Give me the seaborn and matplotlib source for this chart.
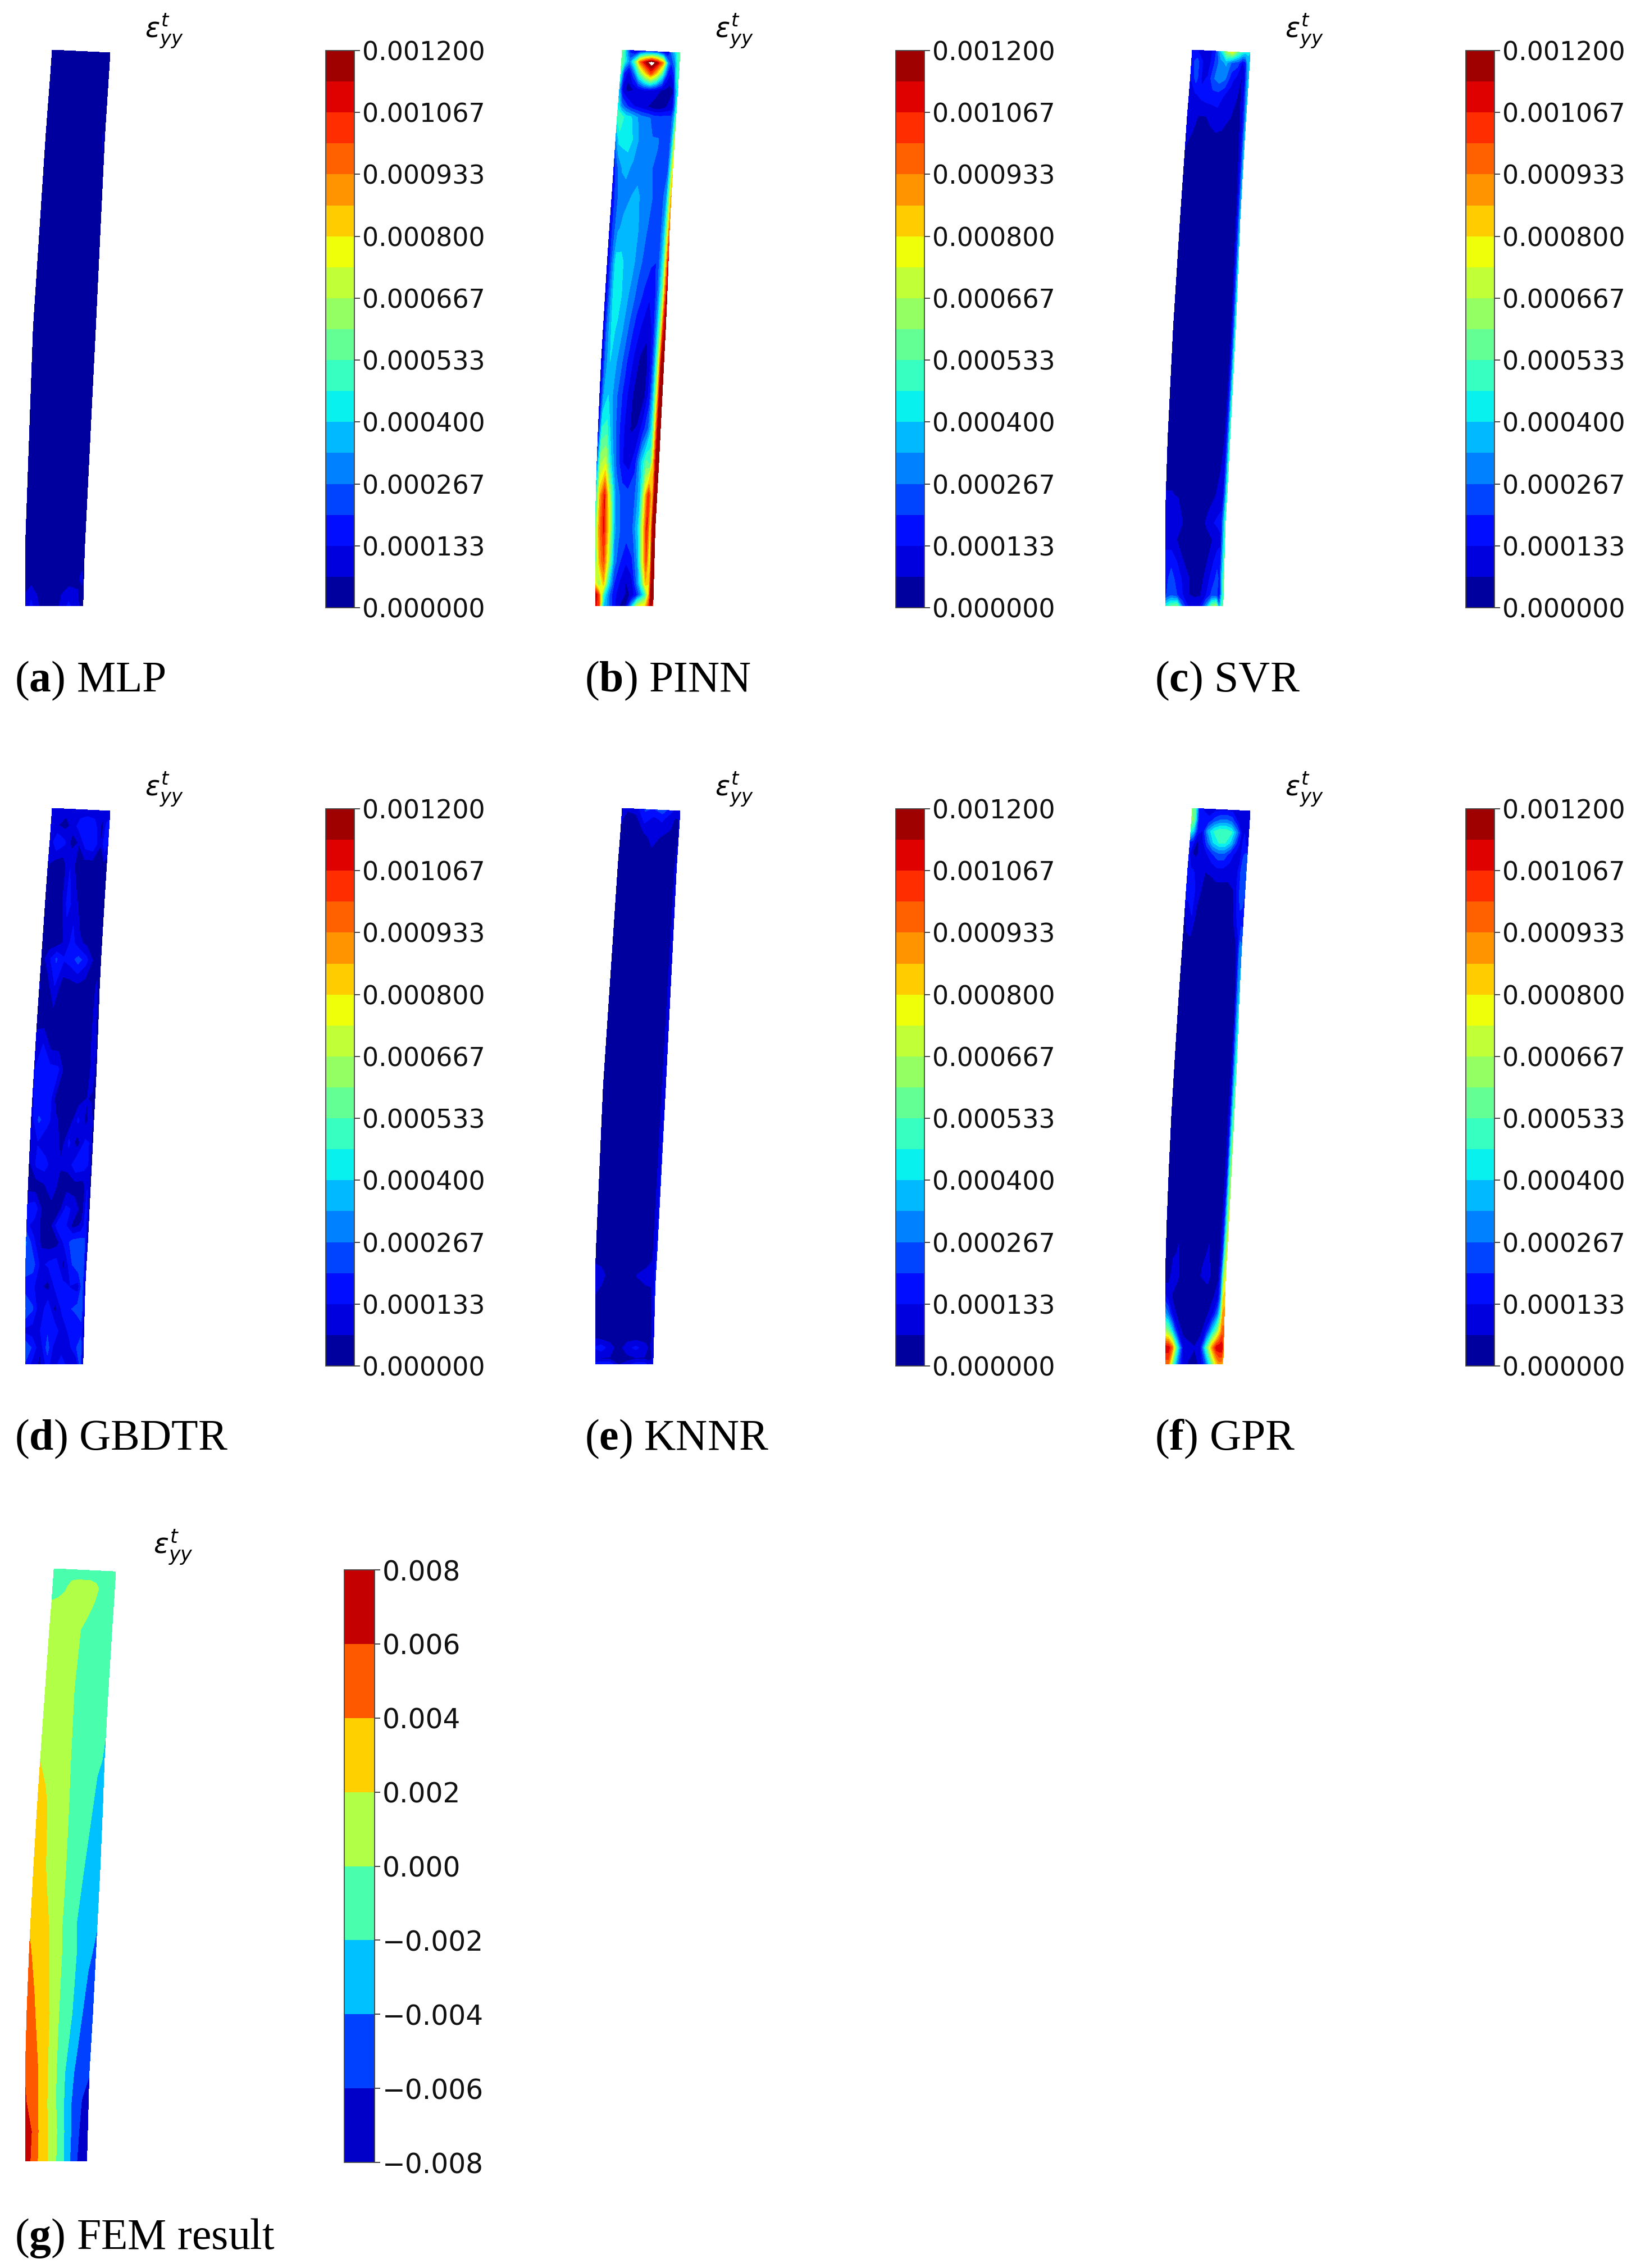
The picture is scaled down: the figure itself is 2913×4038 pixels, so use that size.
import numpy as np
import matplotlib
matplotlib.use('Agg')
import matplotlib.pyplot as plt
import seaborn as sns

##### VALUES
# beam outline, s runs from the top (0) to the bottom (1) of the beam
edge_s = [0.0, 0.064, 0.125, 0.193, 0.262, 0.323, 0.395, 0.474, 0.552, 0.645, 0.703, 0.768, 0.85, 1.0]
edge_left = [47.7, 43.3, 38.3, 34.0, 29.3, 25.0, 20.3, 15.7, 11.0, 6.7, 4.3, 2.0, 0.0, 0.0]
edge_right = [150.0, 146.0, 142.0, 138.0, 134.0, 131.0, 128.5, 125.5, 121.5, 117.0, 114.0, 111.0, 106.0, 102.0]

# contour fields, strain * 1e6 for a to f, strain * 1e3 for g
mlp_u = [0.0, 0.1, 0.25, 0.4, 0.6, 0.75, 0.9, 0.97, 1.0]
mlp_s = [0.0, 0.05, 0.15, 0.5, 0.9, 0.95, 0.98, 1.0]
mlp_v = [
    [25, 25, 25, 25, 25, 25, 25, 25, 30],
    [25, 25, 25, 25, 25, 25, 25, 30, 30],
    [25, 25, 25, 25, 25, 25, 30, 70, 30],
    [25, 25, 25, 25, 25, 25, 25, 30, 30],
    [25, 25, 25, 25, 25, 25, 30, 30, 30],
    [30, 25, 25, 25, 25, 25, 60, 80, 30],
    [70, 120, 40, 25, 60, 110, 70, 50, 30],
    [80, 150, 60, 30, 70, 150, 80, 50, 30],
]

pinn_u = [0.0, 0.06, 0.14, 0.22, 0.32, 0.42, 0.52, 0.62, 0.72, 0.8, 0.86, 0.92, 0.96, 1.0]
pinn_s = [0.0, 0.02, 0.04, 0.07, 0.1, 0.12, 0.16, 0.21, 0.26, 0.32, 0.38, 0.44, 0.5, 0.56, 0.62,
          0.68, 0.74, 0.8, 0.86, 0.92, 0.96, 0.98, 1.0]
pinn_v = [
    [600, 400, 170, 60, 150, 200, 200, 200, 100, 100, 300, 400, 500, 550],
    [600, 450, 300, 500, 950, 1150, 1300, 1150, 900, 350, 200, 300, 450, 550],
    [500, 200, 100, 250, 550, 800, 1000, 800, 500, 200, 120, 200, 450, 500],
    [350, 100, 40, 60, 100, 130, 130, 100, 60, 40, 40, 60, 300, 450],
    [450, 300, 220, 150, 120, 90, 60, 30, 30, 60, 80, 100, 250, 500],
    [500, 530, 440, 420, 350, 300, 280, 250, 240, 240, 240, 240, 320, 550],
    [300, 430, 430, 440, 380, 310, 290, 270, 270, 250, 240, 240, 380, 700],
    [160, 260, 340, 350, 320, 300, 290, 270, 260, 240, 240, 260, 480, 780],
    [110, 220, 300, 310, 330, 350, 310, 280, 260, 240, 250, 330, 560, 870],
    [100, 230, 320, 350, 370, 370, 310, 270, 240, 220, 260, 400, 650, 950],
    [90, 240, 430, 420, 370, 350, 290, 240, 210, 200, 280, 470, 800, 1090],
    [80, 250, 440, 430, 360, 310, 240, 190, 140, 170, 300, 570, 900, 1180],
    [70, 280, 420, 390, 330, 250, 170, 120, 80, 150, 340, 660, 1050, 1190],
    [60, 280, 400, 350, 280, 190, 120, 50, 40, 150, 360, 760, 1150, 1190],
    [80, 330, 400, 320, 230, 150, 70, 30, 60, 170, 390, 800, 1180, 1190],
    [110, 470, 490, 340, 220, 130, 60, 70, 170, 260, 420, 850, 1190, 1190],
    [250, 650, 700, 420, 240, 130, 100, 180, 400, 550, 500, 900, 1190, 1190],
    [450, 850, 1070, 700, 320, 240, 220, 240, 380, 800, 1060, 800, 1190, 1190],
    [550, 900, 1080, 800, 350, 260, 240, 260, 420, 800, 1070, 750, 1190, 1190],
    [550, 850, 1000, 700, 300, 200, 140, 190, 350, 750, 1000, 700, 1190, 1190],
    [800, 600, 850, 450, 200, 120, 60, 100, 300, 550, 850, 800, 1190, 1190],
    [1180, 1000, 500, 300, 150, 100, 60, 70, 200, 350, 500, 850, 1190, 1190],
    [1100, 1000, 400, 300, 150, 60, 60, 350, 700, 800, 800, 1000, 1190, 1000],
]

svr_u = [0.0, 0.1, 0.2, 0.3, 0.4, 0.5, 0.6, 0.7, 0.8, 0.88, 0.93, 0.97, 1.0]
svr_s = [0.0, 0.02, 0.05, 0.08, 0.12, 0.18, 0.3, 0.5, 0.7, 0.8, 0.85, 0.88, 0.92, 0.95, 0.98, 1.0]
svr_v = [
    [130, 130, 120, 100, 170, 400, 650, 760, 550, 450, 420, 420, 400],
    [170, 230, 130, 100, 200, 300, 350, 250, 230, 120, 160, 350, 400],
    [130, 230, 120, 140, 260, 300, 270, 160, 100, 60, 100, 300, 380],
    [130, 120, 150, 170, 170, 170, 130, 100, 70, 60, 100, 280, 380],
    [110, 90, 60, 60, 80, 100, 90, 70, 60, 50, 90, 220, 380],
    [60, 40, 25, 25, 25, 25, 25, 25, 25, 40, 80, 220, 380],
    [25, 25, 25, 25, 25, 25, 25, 25, 25, 25, 60, 200, 370],
    [25, 25, 25, 25, 25, 25, 25, 25, 25, 25, 60, 250, 480],
    [25, 25, 25, 25, 25, 25, 25, 25, 25, 40, 80, 280, 520],
    [70, 70, 60, 30, 25, 25, 25, 25, 60, 90, 100, 300, 520],
    [130, 130, 130, 60, 25, 25, 25, 90, 130, 150, 160, 350, 520],
    [90, 90, 60, 25, 25, 25, 25, 30, 70, 90, 120, 350, 520],
    [180, 180, 130, 70, 30, 25, 30, 60, 120, 180, 160, 380, 540],
    [170, 230, 170, 120, 70, 30, 30, 100, 160, 220, 180, 420, 550],
    [190, 250, 200, 130, 70, 50, 60, 130, 220, 220, 130, 400, 530],
    [450, 550, 600, 250, 120, 120, 120, 300, 580, 650, 300, 500, 550],
]

gbdtr_u = [0.0, 0.12, 0.25, 0.38, 0.5, 0.62, 0.75, 0.88, 0.95, 1.0]
gbdtr_s = [0.0, 0.03, 0.06, 0.1, 0.17, 0.24, 0.27, 0.32, 0.38, 0.42, 0.47, 0.52, 0.56, 0.6, 0.64,
           0.68, 0.72, 0.75, 0.78, 0.82, 0.86, 0.9, 0.94, 0.97, 1.0]
gbdtr_v = [
    [90, 90, 90, 90, 90, 90, 90, 90, 90, 90],
    [90, 70, 40, 90, 170, 200, 170, 40, 150, 170],
    [70, 200, 150, 40, 70, 170, 190, 70, 190, 130],
    [70, 30, 25, 130, 30, 30, 25, 25, 30, 30],
    [50, 25, 25, 160, 100, 25, 25, 25, 25, 25],
    [25, 25, 25, 80, 160, 80, 50, 25, 25, 25],
    [30, 110, 210, 140, 170, 230, 160, 50, 25, 30],
    [70, 25, 130, 25, 25, 40, 25, 25, 80, 25],
    [40, 25, 25, 25, 25, 25, 25, 40, 100, 25],
    [100, 130, 30, 25, 25, 25, 25, 40, 120, 25],
    [130, 180, 160, 150, 25, 25, 25, 40, 120, 25],
    [130, 150, 190, 40, 25, 25, 25, 70, 50, 25],
    [100, 210, 170, 80, 50, 25, 150, 40, 120, 25],
    [70, 130, 70, 130, 25, 150, 25, 150, 130, 25],
    [50, 150, 170, 80, 80, 80, 190, 170, 130, 25],
    [40, 25, 50, 130, 25, 40, 25, 25, 130, 25],
    [160, 180, 40, 25, 25, 150, 120, 25, 160, 25],
    [150, 100, 50, 40, 170, 150, 40, 80, 170, 25],
    [270, 150, 50, 25, 40, 150, 230, 240, 210, 30],
    [250, 230, 110, 150, 170, 40, 190, 260, 230, 50],
    [160, 150, 80, 40, 150, 170, 130, 100, 230, 70],
    [270, 210, 70, 190, 40, 150, 190, 230, 240, 70],
    [110, 100, 130, 190, 190, 80, 150, 130, 170, 50],
    [260, 190, 80, 230, 100, 80, 110, 200, 250, 40],
    [190, 110, 50, 160, 80, 190, 80, 80, 230, 40],
]

knnr_u = [0.0, 0.1, 0.25, 0.4, 0.55, 0.7, 0.85, 0.93, 1.0]
knnr_s = [0.0, 0.015, 0.05, 0.1, 0.5, 0.8, 0.84, 0.87, 0.92, 0.95, 0.97, 0.99, 1.0]
knnr_v = [
    [70, 70, 100, 210, 190, 240, 150, 100, 90],
    [70, 60, 50, 170, 120, 150, 90, 60, 70],
    [60, 60, 30, 40, 90, 60, 50, 30, 70],
    [60, 30, 25, 25, 25, 25, 25, 40, 90],
    [25, 25, 25, 25, 25, 25, 25, 50, 130],
    [25, 25, 25, 25, 25, 25, 25, 60, 150],
    [110, 90, 30, 25, 25, 70, 90, 80, 150],
    [70, 50, 25, 25, 25, 40, 50, 60, 150],
    [30, 25, 25, 25, 25, 25, 25, 30, 130],
    [50, 30, 25, 25, 25, 25, 25, 30, 130],
    [140, 170, 100, 30, 110, 150, 100, 50, 100],
    [70, 60, 60, 30, 40, 60, 60, 40, 80],
    [170, 190, 190, 60, 100, 170, 170, 100, 90],
]

gpr_u = [0.0, 0.05, 0.12, 0.2, 0.3, 0.4, 0.5, 0.6, 0.7, 0.8, 0.88, 0.93, 0.97, 1.0]
gpr_s = [0.0, 0.02, 0.04, 0.06, 0.08, 0.11, 0.15, 0.2, 0.25, 0.35, 0.45, 0.55, 0.65, 0.75, 0.8,
         0.84, 0.88, 0.91, 0.94, 0.97, 1.0]
gpr_v = [
    [600, 550, 180, 130, 100, 110, 120, 120, 110, 100, 100, 90, 90, 90],
    [620, 580, 200, 150, 150, 230, 280, 290, 250, 130, 100, 90, 90, 90],
    [500, 400, 170, 130, 350, 470, 530, 530, 480, 300, 120, 130, 110, 110],
    [200, 170, 60, 90, 250, 400, 470, 470, 380, 200, 100, 170, 110, 110],
    [150, 70, 40, 100, 130, 200, 250, 250, 170, 110, 110, 190, 220, 220],
    [200, 140, 130, 130, 70, 80, 110, 110, 100, 100, 150, 250, 250, 270],
    [180, 150, 150, 100, 30, 25, 25, 25, 30, 60, 170, 230, 220, 200],
    [30, 100, 130, 30, 25, 25, 25, 25, 25, 30, 120, 180, 180, 150],
    [25, 25, 25, 25, 25, 25, 25, 25, 25, 25, 30, 100, 300, 300],
    [25, 25, 25, 25, 25, 25, 25, 25, 25, 25, 30, 60, 300, 400],
    [25, 25, 25, 25, 25, 25, 25, 40, 40, 30, 30, 80, 350, 500],
    [25, 30, 40, 25, 25, 25, 25, 25, 25, 60, 30, 100, 400, 580],
    [25, 25, 50, 25, 25, 25, 25, 25, 25, 50, 30, 110, 450, 650],
    [25, 25, 25, 60, 25, 25, 25, 40, 60, 30, 40, 180, 500, 680],
    [25, 25, 60, 70, 25, 25, 25, 60, 70, 30, 40, 200, 560, 700],
    [25, 40, 90, 80, 25, 25, 25, 70, 90, 40, 50, 250, 650, 720],
    [150, 110, 60, 30, 25, 25, 25, 25, 30, 60, 110, 300, 800, 830],
    [350, 280, 130, 50, 25, 25, 25, 25, 50, 130, 280, 500, 880, 900],
    [650, 600, 400, 150, 40, 25, 25, 40, 150, 400, 600, 800, 960, 950],
    [1120, 1120, 950, 500, 130, 90, 70, 130, 500, 900, 1120, 1130, 1130, 950],
    [950, 950, 600, 300, 100, 60, 40, 80, 250, 550, 800, 900, 900, 800],
]

fem_u = [0.0, 0.1, 0.2, 0.3, 0.4, 0.5, 0.6, 0.7, 0.8, 0.9, 1.0]
fem_s = [0.0, 0.03, 0.06, 0.1, 0.2, 0.32, 0.4, 0.5, 0.6, 0.65, 0.75, 0.85, 0.9, 0.95, 1.0]
fem_v = [
    [-1.0, -1.0, -1.0, -1.0, -1.0, -1.0, -1.0, -1.0, -1.0, -1.0, -1.0],
    [-1.0, -1.0, -0.3, 0.6, 0.8, 0.8, 0.8, 0.4, -0.5, -1.0, -1.0],
    [0.3, 0.6, 0.8, 0.8, 0.8, 0.7, 0.4, -0.2, -0.8, -1.0, -1.0],
    [1.0, 1.0, 1.0, 0.8, 0.5, 0.0, -0.5, -1.0, -1.0, -1.0, -1.2],
    [1.3, 1.2, 1.0, 0.8, 0.3, -0.2, -0.6, -1.0, -1.2, -1.5, -1.8],
    [1.9, 1.5, 1.2, 0.8, 0.3, -0.1, -0.6, -1.1, -1.5, -1.8, -2.1],
    [3.2, 2.4, 1.6, 1.0, 0.5, -0.1, -0.6, -1.1, -1.6, -2.4, -3.0],
    [3.6, 2.9, 1.8, 1.2, 0.6, -0.1, -0.9, -1.5, -2.3, -3.0, -3.7],
    [3.8, 3.2, 2.6, 1.8, 1.0, -0.3, -1.2, -2.1, -2.8, -3.4, -3.9],
    [4.2, 3.6, 2.8, 2.0, 1.0, -0.1, -1.2, -1.9, -2.8, -3.7, -4.4],
    [5.2, 4.2, 3.4, 2.6, 1.2, -0.2, -1.3, -2.1, -3.4, -4.8, -5.4],
    [5.8, 4.8, 4.0, 2.7, 1.2, -0.2, -1.7, -3.2, -4.5, -5.5, -5.9],
    [6.2, 5.0, 4.0, 2.7, 1.2, -0.2, -1.8, -3.5, -5.2, -6.1, -6.6],
    [6.8, 6.0, 4.1, 2.8, 1.3, 0.1, -1.6, -3.4, -5.2, -6.5, -6.9],
    [6.8, 5.8, 4.0, 3.0, 1.3, 0.0, -1.5, -3.5, -5.5, -6.8, -7.0],
]

small_ticks = [0, 133.33, 266.67, 400, 533.33, 666.67, 800, 933.33, 1066.67, 1200]
small_labels = ['0.000000', '0.000133', '0.000267', '0.000400', '0.000533',
                '0.000667', '0.000800', '0.000933', '0.001067', '0.001200']
fem_ticks = [-8, -6, -4, -2, 0, 2, 4, 6, 8]
fem_labels = ['\u22120.008', '\u22120.006', '\u22120.004', '\u22120.002', '0.000',
              '0.002', '0.004', '0.006', '0.008']

sns.set_theme(style='white')
plt.rcParams['mathtext.fontset'] = 'custom'
plt.rcParams['mathtext.rm'] = 'Liberation Serif'
plt.rcParams['mathtext.bf'] = 'Liberation Serif:bold'
plt.rcParams['mathtext.it'] = 'DejaVu Sans:italic'

W, H = 2913, 4038
fig = plt.figure(figsize=(W / 100, H / 100), dpi=100, facecolor='white')


# axes rectangle given in pixels from the top left corner of the picture
def px_axes(x0, y0, x1, y1):
    return fig.add_axes([x0 / W, 1 - y1 / H, (x1 - x0) / W, (y1 - y0) / H])


# one beam plot with its colorbar, epsilon label and caption
def draw_panel(u, s, values, levels, ticks, labels, label_size, eps_size, beam_box, bar_box, eps_xy,
               letter, name, cap_xy):
    ax = px_axes(*beam_box)
    u = np.array(u)
    s = np.array(s)
    left = np.interp(s, edge_s, edge_left)
    right = np.interp(s, edge_s, edge_right)
    # x across the curved beam, top edge slightly tilted
    X = left[:, None] + (right - left)[:, None] * u[None, :]
    Y = s[:, None] + (1 - s[:, None]) * 0.005 * u[None, :]
    cs = ax.contourf(X, Y, np.array(values), levels=levels, cmap='jet')
    ax.set_xlim(0, 150)
    ax.set_ylim(1, 0)
    sns.despine(ax=ax, left=True, bottom=True)
    ax.set_axis_off()

    cax = px_axes(*bar_box)
    cb = fig.colorbar(cs, cax=cax, ticks=ticks)
    cb.ax.set_yticklabels(labels)
    cb.ax.tick_params(axis='y', right=True, length=7.2, width=1.3, color='#333333',
                      pad=3, labelsize=label_size, labelcolor='#111111')
    cb.outline.set_edgecolor('#444444')
    cb.outline.set_linewidth(1.3)

    fig.text(eps_xy[0] / W, 1 - eps_xy[1] / H, r'$\varepsilon^{t}_{yy}$', fontsize=eps_size,
             ha='center', va='center', color='black', family='DejaVu Sans')
    fig.text(cap_xy[0] / W, 1 - cap_xy[1] / H, '($\\mathbf{' + letter + '}$) ' + name, fontsize=56,
             ha='left', va='baseline', color='black', family='Liberation Serif')


small_levels = np.linspace(0, 1200, 19)
fem_levels = np.linspace(-8, 8, 9)

panels = [
    (0, 0, mlp_u, mlp_s, mlp_v, 'a', 'MLP'),
    (1, 0, pinn_u, pinn_s, pinn_v, 'b', 'PINN'),
    (2, 0, svr_u, svr_s, svr_v, 'c', 'SVR'),
    (0, 1, gbdtr_u, gbdtr_s, gbdtr_v, 'd', 'GBDTR'),
    (1, 1, knnr_u, knnr_s, knnr_v, 'e', 'KNNR'),
    (2, 1, gpr_u, gpr_s, gpr_v, 'f', 'GPR'),
]

for col, row, u, s, v, letter, name in panels:
    dx = col * 1015
    dy = row * 1350
    draw_panel(u, s, v, small_levels, small_ticks, small_labels, 33, 35,
               (45 + dx, 89 + dy, 196 + dx, 1079 + dy),
               (580 + dx, 90 + dy, 631 + dx, 1082 + dy),
               (292 + dx, 55 + dy), letter, name,
               (26 + dx, 1231 + dy))

draw_panel(fem_u, fem_s, fem_v, fem_levels, fem_ticks, fem_labels, 35, 36,
           (45, 2793, 206, 3848), (613, 2795, 667, 3850),
           (308, 2755), 'g', 'FEM result', (26, 4004))

fig.savefig('out.png', dpi=100, facecolor='white')
